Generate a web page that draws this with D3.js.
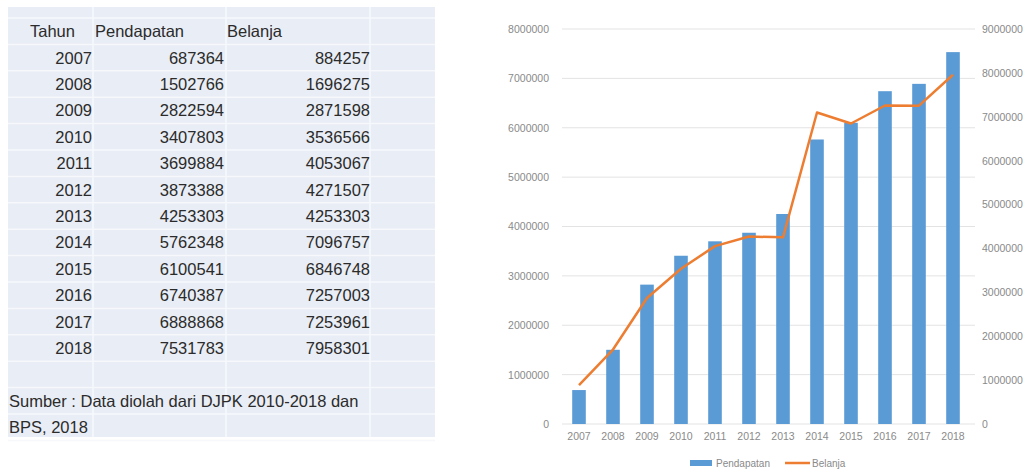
<!DOCTYPE html>
<html>
<head>
<meta charset="utf-8">
<script src="https://cdn.jsdelivr.net/npm/d3@7"></script>
<style>
  body { margin: 0; background: #fff; }
  svg { display: block; font-family: "Liberation Sans", Arial, sans-serif; }
</style>
</head>
<body>
<div id="chart"></div>
<script>
// data
var years = ["2007", "2008", "2009", "2010", "2011", "2012", "2013", "2014", "2015", "2016", "2017", "2018"];
var pendapatan = [687364, 1502766, 2822594, 3407803, 3699884, 3873388, 4253303, 5762348, 6100541, 6740387, 6888868, 7531783];
var belanja = [884257, 1696275, 2871598, 3536566, 4053067, 4271507, 4253303, 7096757, 6846748, 7257003, 7253961, 7958301];
var headers = ["Tahun", "Pendapatan", "Belanja"];
var sourceLines = ["Sumber : Data diolah dari DJPK 2010-2018 dan", "BPS, 2018"];
var leftTicks = [0, 1000000, 2000000, 3000000, 4000000, 5000000, 6000000, 7000000, 8000000];
var rightTicks = [0, 1000000, 2000000, 3000000, 4000000, 5000000, 6000000, 7000000, 8000000, 9000000];

var svg = d3.select("#chart")
    .append("svg")
    .attr("width", 1029)
    .attr("height", 472);

// ---------- table on the left ----------
var tbl = svg.append("g");
var rowH = 26.4, rowTop = 18;
var colEdges = [8, 93, 226, 370, 435];

tbl.append("rect")
    .attr("x", 8).attr("y", 7)
    .attr("width", 427).attr("height", 430)
    .attr("fill", "#e9edf5");

// row lines
d3.range(0, 17).forEach(function (k) {
    tbl.append("line")
        .attr("x1", 8).attr("x2", 435)
        .attr("y1", rowTop + k * rowH).attr("y2", rowTop + k * rowH)
        .attr("stroke", "#f6f8fc").attr("stroke-width", 1.5);
});
// column lines
colEdges.slice(1, 4).forEach(function (x) {
    tbl.append("line")
        .attr("x1", x).attr("x2", x)
        .attr("y1", 7).attr("y2", 437)
        .attr("stroke", "#f6f8fc").attr("stroke-width", 1.5);
});

var tf = 16.5, tc = "#2b2b2b";
function rowY(i) { return rowTop + i * rowH + rowH / 2 + 6; }

tbl.append("text").attr("x", 30).attr("y", rowY(0)).attr("font-size", tf).attr("fill", tc).text(headers[0]);
tbl.append("text").attr("x", 95).attr("y", rowY(0)).attr("font-size", tf).attr("fill", tc).text(headers[1]);
tbl.append("text").attr("x", 227).attr("y", rowY(0)).attr("font-size", tf).attr("fill", tc).text(headers[2]);

years.forEach(function (yr, i) {
    tbl.append("text").attr("x", 92).attr("y", rowY(i + 1)).attr("text-anchor", "end")
        .attr("font-size", tf).attr("fill", tc).text(yr);
    tbl.append("text").attr("x", 224).attr("y", rowY(i + 1)).attr("text-anchor", "end")
        .attr("font-size", tf).attr("fill", tc).text(pendapatan[i]);
    tbl.append("text").attr("x", 370).attr("y", rowY(i + 1)).attr("text-anchor", "end")
        .attr("font-size", tf).attr("fill", tc).text(belanja[i]);
});

sourceLines.forEach(function (s, i) {
    tbl.append("text").attr("x", 9).attr("y", rowY(years.length + 2 + i))
        .attr("font-size", tf).attr("fill", tc).text(s);
});

// ---------- combo chart on the right ----------
var x0 = 562, x1 = 970, yTop = 29, yBot = 424;
var axisColor = "#8a8a8a";

var x = d3.scaleBand()
    .domain(years)
    .range([x0, x1])
    .paddingInner(0.6)
    .paddingOuter(0.3);

var yL = d3.scaleLinear().domain([0, 8000000]).range([yBot, yTop]);
var yR = d3.scaleLinear().domain([0, 9000000]).range([yBot, yTop]);

// gridlines
svg.append("g")
    .selectAll("line")
    .data(leftTicks)
    .enter().append("line")
    .attr("x1", x0).attr("x2", x1 + 5)
    .attr("y1", function (d) { return yL(d); })
    .attr("y2", function (d) { return yL(d); })
    .attr("stroke", "#e3e3e3").attr("stroke-width", 1);

// bars
svg.append("g")
    .selectAll("rect")
    .data(years)
    .enter().append("rect")
    .attr("x", function (d) { return x(d); })
    .attr("width", x.bandwidth())
    .attr("y", function (d, i) { return yL(pendapatan[i]); })
    .attr("height", function (d, i) { return yBot - yL(pendapatan[i]); })
    .attr("fill", "#5b9bd5");

// line
var line = d3.line()
    .x(function (d, i) { return x(years[i]) + x.bandwidth() / 2; })
    .y(function (d) { return yR(d); });

svg.append("path")
    .datum(belanja)
    .attr("d", line)
    .attr("fill", "none")
    .attr("stroke", "#ed7d31")
    .attr("stroke-width", 2.5)
    .attr("stroke-linejoin", "round");

// axes
var fmt = d3.format("d");
var gl = svg.append("g")
    .attr("transform", "translate(" + (x0 - 10) + ",0)")
    .call(d3.axisLeft(yL).tickValues(leftTicks).tickSize(0).tickFormat(fmt));
var gr = svg.append("g")
    .attr("transform", "translate(" + (x1 + 9) + ",0)")
    .call(d3.axisRight(yR).tickValues(rightTicks).tickSize(0).tickFormat(fmt));
var gb = svg.append("g")
    .attr("transform", "translate(0," + (yBot + 6) + ")")
    .call(d3.axisBottom(x).tickSize(0));

[gl, gr, gb].forEach(function (g) {
    g.select(".domain").remove();
    g.selectAll("text")
        .attr("fill", axisColor)
        .attr("font-size", 10.5)
        .attr("font-family", "'Liberation Sans', Arial, sans-serif");
});

// legend
var lg = svg.append("g").attr("font-size", 10).attr("fill", axisColor);
lg.append("rect").attr("x", 690).attr("y", 460).attr("width", 22).attr("height", 6).attr("fill", "#5b9bd5");
lg.append("text").attr("x", 716).attr("y", 467).text("Pendapatan");
lg.append("line").attr("x1", 785).attr("x2", 810).attr("y1", 463).attr("y2", 463)
    .attr("stroke", "#ed7d31").attr("stroke-width", 2.5);
lg.append("text").attr("x", 812).attr("y", 467).text("Belanja");
</script>
</body>
</html>
